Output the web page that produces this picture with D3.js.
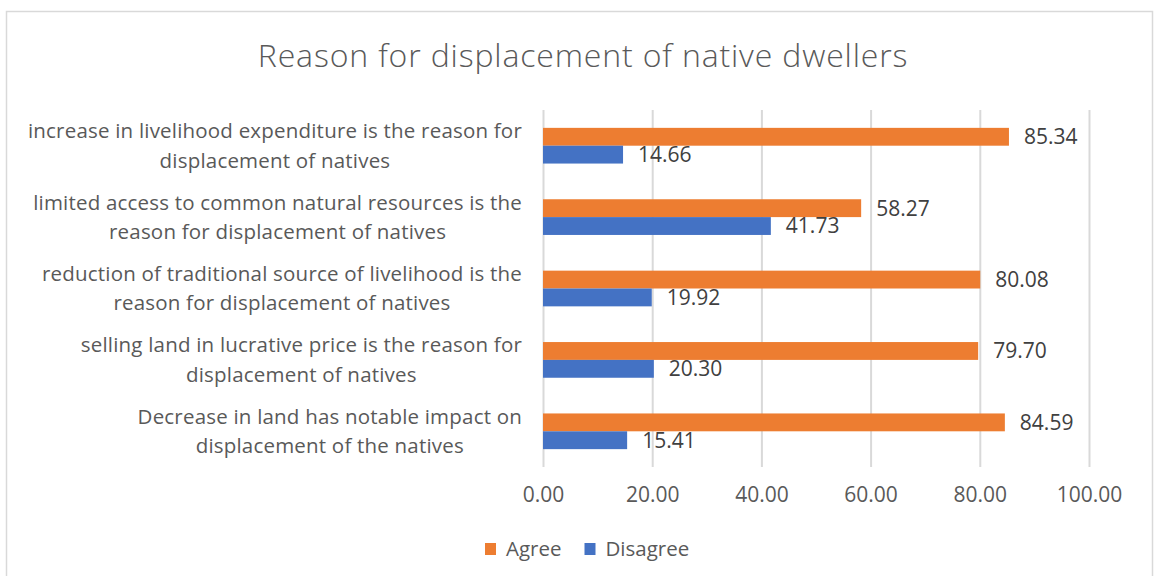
<!DOCTYPE html>
<html>
<head>
<meta charset="utf-8">
<script src="https://cdn.jsdelivr.net/npm/d3@7/dist/d3.min.js"></script>
<style>
  html, body { margin: 0; padding: 0; background: #fff; }
  svg { display: block; font-family: "Open Sans", Lato, sans-serif; }
</style>
</head>
<body>
<svg id="chart" width="1158" height="576"></svg>
<script>
// Survey statements (top to bottom), each split over two lines
const categories = [
  "increase in livelihood expenditure is the reason for\ndisplacement of natives",
  "limited access to common natural resources is the\nreason for displacement of natives",
  "reduction of traditional source of livelihood is the\nreason for displacement of natives",
  "selling land in lucrative price is the reason for\ndisplacement of natives",
  "Decrease in land has notable impact on\ndisplacement of the natives"
];
const seriesNames = ["Agree", "Disagree"];
const agree    = [85.34, 58.27, 80.08, 79.70, 84.59];
const disagree = [14.66, 41.73, 19.92, 20.30, 15.41];
const xTicks   = [0, 20, 40, 60, 80, 100];
const titleText = "Reason for displacement of native dwellers";

const colors = { Agree: "#ED7D31", Disagree: "#4472C4" };
const textColor = "#595959";
const labelSize = 20.5;
const numberSize = 21;

const svg = d3.select("#chart");
const H = 576;
const plot = { left: 543, right: 1089, top: 110, bottom: 467 };

// Chart frame
svg.append("rect")
  .attr("x", 6.5).attr("y", 11.5)
  .attr("width", 1146).attr("height", H)
  .attr("fill", "#fff").attr("stroke", "#D9D9D9").attr("stroke-width", 1.5);

// Title
svg.append("text")
  .attr("x", 583)
  .attr("y", 67)
  .attr("text-anchor", "middle")
  .attr("font-size", 32)
  .attr("font-weight", 300)
  .attr("letter-spacing", 0.85)
  .attr("fill", textColor)
  .text(titleText);

const x = d3.scaleLinear().domain([0, 100]).range([plot.left, plot.right]);
const y = d3.scaleBand().domain(categories)
  .range([plot.top, plot.bottom])
  .paddingInner(0.5).paddingOuter(0.25);
const yInner = d3.scaleBand().domain(seriesNames).range([0, y.bandwidth()]);

// Vertical gridlines
svg.append("g")
  .attr("transform", `translate(0,${plot.bottom})`)
  .call(d3.axisBottom(x).tickValues(xTicks).tickSize(-(plot.bottom - plot.top)).tickFormat(""))
  .call(g => g.select(".domain").remove())
  .call(g => g.selectAll("line").attr("stroke", "#D9D9D9").attr("stroke-width", 2));

// Value axis labels
svg.append("g")
  .attr("transform", `translate(0,${plot.bottom + 17})`)
  .call(d3.axisBottom(x).tickValues(xTicks).tickSize(0).tickFormat(d3.format(".2f")))
  .call(g => g.select(".domain").remove())
  .call(g => g.selectAll("text")
    .attr("font-size", numberSize).attr("fill", textColor)
    .style("font-family", "'Open Sans', Lato, sans-serif"));

// Category labels: lines centred on each other, block right-aligned to the axis
const labelRight = plot.left - 21;
const catG = svg.append("g");
categories.forEach(c => {
  const lines = c.split("\n");
  const cy = y(c) + y.bandwidth() / 2;
  const t = catG.append("text")
    .attr("text-anchor", "middle")
    .attr("font-size", labelSize)
    .attr("letter-spacing", 0.2)
    .attr("fill", textColor);
  const spans = lines.map((ln, i) =>
    t.append("tspan")
      .attr("y", cy + (i - (lines.length - 1) / 2) * 29.5)
      .attr("dy", "0.35em")
      .text(ln));
  const widest = d3.max(spans, s => s.node().getComputedTextLength());
  spans.forEach(s => s.attr("x", labelRight - widest / 2));
});

// Bars
const rows = categories.map((c, i) => ({ cat: c, Agree: agree[i], Disagree: disagree[i] }));
const groups = svg.append("g").selectAll("g").data(rows).join("g")
  .attr("transform", d => `translate(0,${y(d.cat)})`);

groups.selectAll("rect")
  .data(d => seriesNames.map(s => ({ s, v: d[s] })))
  .join("rect")
  .attr("x", x(0))
  .attr("y", d => yInner(d.s))
  .attr("width", d => x(d.v) - x(0))
  .attr("height", yInner.bandwidth())
  .attr("fill", d => colors[d.s]);

groups.selectAll("text.val")
  .data(d => seriesNames.map(s => ({ s, v: d[s] })))
  .join("text")
  .attr("class", "val")
  .attr("x", d => x(d.v) + 15)
  .attr("y", d => yInner(d.s) + yInner.bandwidth() / 2)
  .attr("dy", "0.35em")
  .attr("font-size", numberSize)
  .attr("fill", "#404040")
  .text(d => d3.format(".2f")(d.v));

// Legend
const legend = svg.append("g").attr("transform", "translate(485,549)");
let lx = 0;
seriesNames.forEach(s => {
  legend.append("rect")
    .attr("x", lx).attr("y", -6)
    .attr("width", 11).attr("height", 12)
    .attr("fill", colors[s]);
  const t = legend.append("text")
    .attr("x", lx + 21).attr("y", 0).attr("dy", "0.35em")
    .attr("font-size", labelSize).attr("fill", textColor)
    .text(s);
  lx += 21 + t.node().getComputedTextLength() + 23;
});
</script>
</body>
</html>
